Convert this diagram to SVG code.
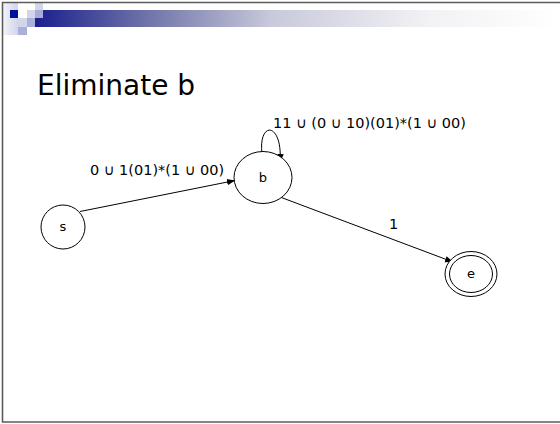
<svg xmlns="http://www.w3.org/2000/svg" width="560" height="424" viewBox="0 0 560 424">
  <style>
    .title { font-family: "DejaVu Sans", Verdana, sans-serif; font-size: 28px; fill: #000; }
    .lbl { font-family: "DejaVu Sans", Verdana, sans-serif; font-size: 14.5px; fill: #000; }
    .nlbl { font-family: "DejaVu Sans", Verdana, sans-serif; font-size: 13px; fill: #000; text-anchor: middle; }
    .state { fill: #fff; stroke: #000; stroke-width: 1; }
    .edge { fill: none; stroke: #000; stroke-width: 1; marker-end: url(#arrow); }
  </style>
  <defs>
    <linearGradient id="bar" x1="0" y1="0" x2="1" y2="0">
      <stop offset="0" stop-color="#1a1f8e"/>
      <stop offset="0.2" stop-color="#6a6ea6"/>
      <stop offset="0.45" stop-color="#c8c9da"/>
      <stop offset="0.75" stop-color="#f2f2f5"/>
      <stop offset="1" stop-color="#ffffff"/>
    </linearGradient>
    <linearGradient id="side" x1="0" y1="0" x2="1" y2="0">
      <stop offset="0" stop-color="#f4f4fa"/>
      <stop offset="1" stop-color="#d2d4ea"/>
    </linearGradient>
    <marker id="arrow" viewBox="0 0 10 10" refX="10" refY="5" markerWidth="8" markerHeight="8" markerUnits="userSpaceOnUse" orient="auto">
      <path d="M0,1 L10,5 L0,9 Z" fill="#000"/>
    </marker>
  </defs>

  <rect width="560" height="424" fill="#fff"/>

  <!-- header ornament -->
  <g id="header">
    <rect x="35" y="10" width="525" height="17" fill="url(#bar)"/>
    <rect x="3" y="3" width="15" height="32" fill="url(#side)"/>
    <rect x="10" y="10" width="8" height="8" fill="#001199"/>
    <rect x="27" y="10" width="8" height="8" fill="#d3d5ea"/>
    <rect x="35" y="3" width="8" height="7" fill="#d3d5ea"/>
    <rect x="35" y="10" width="8" height="8" fill="#a9acd6"/>
    <rect x="18" y="18" width="9" height="9" fill="#d3d5ea"/>
    <rect x="27" y="18" width="8" height="9" fill="#aab0dc"/>
    <rect x="18" y="27" width="9" height="8" fill="#aab0dc"/>
  </g>

  <!-- slide frame -->
  <path d="M560,2.5 H2.5 V422 H560" fill="none" stroke="#5c5c5c" stroke-width="1.6"/>

  <text class="title" x="37" y="95">Eliminate b</text>

  <!-- transitions -->
  <g id="connectors">
    <path id="s-b" class="edge" d="M80,211.5 L235,180.5"/>
    <path id="b-b" class="edge" d="M262,154 C258,120 283,122 280,162"/>
    <path id="b-e" class="edge" d="M280,197 L453,262"/>
    <text class="lbl" x="90" y="175">0 ∪ 1(01)*(1 ∪ 00)</text>
    <text class="lbl" x="273" y="128">11 ∪ (0 ∪ 10)(01)*(1 ∪ 00)</text>
    <text class="lbl" x="389" y="229">1</text>
  </g>

  <!-- states -->
  <g id="s">
    <ellipse class="state" cx="63" cy="227" rx="22" ry="22"/>
    <text class="nlbl" x="63" y="231">s</text>
  </g>
  <g id="b">
    <ellipse class="state" cx="263" cy="177.5" rx="29" ry="26"/>
    <text class="nlbl" x="263" y="182">b</text>
  </g>
  <g id="e">
    <ellipse class="state" cx="471" cy="274" rx="26" ry="22.5"/>
    <ellipse class="state" cx="471" cy="274" rx="21.5" ry="18.5"/>
    <text class="nlbl" x="471" y="278">e</text>
  </g>
</svg>
